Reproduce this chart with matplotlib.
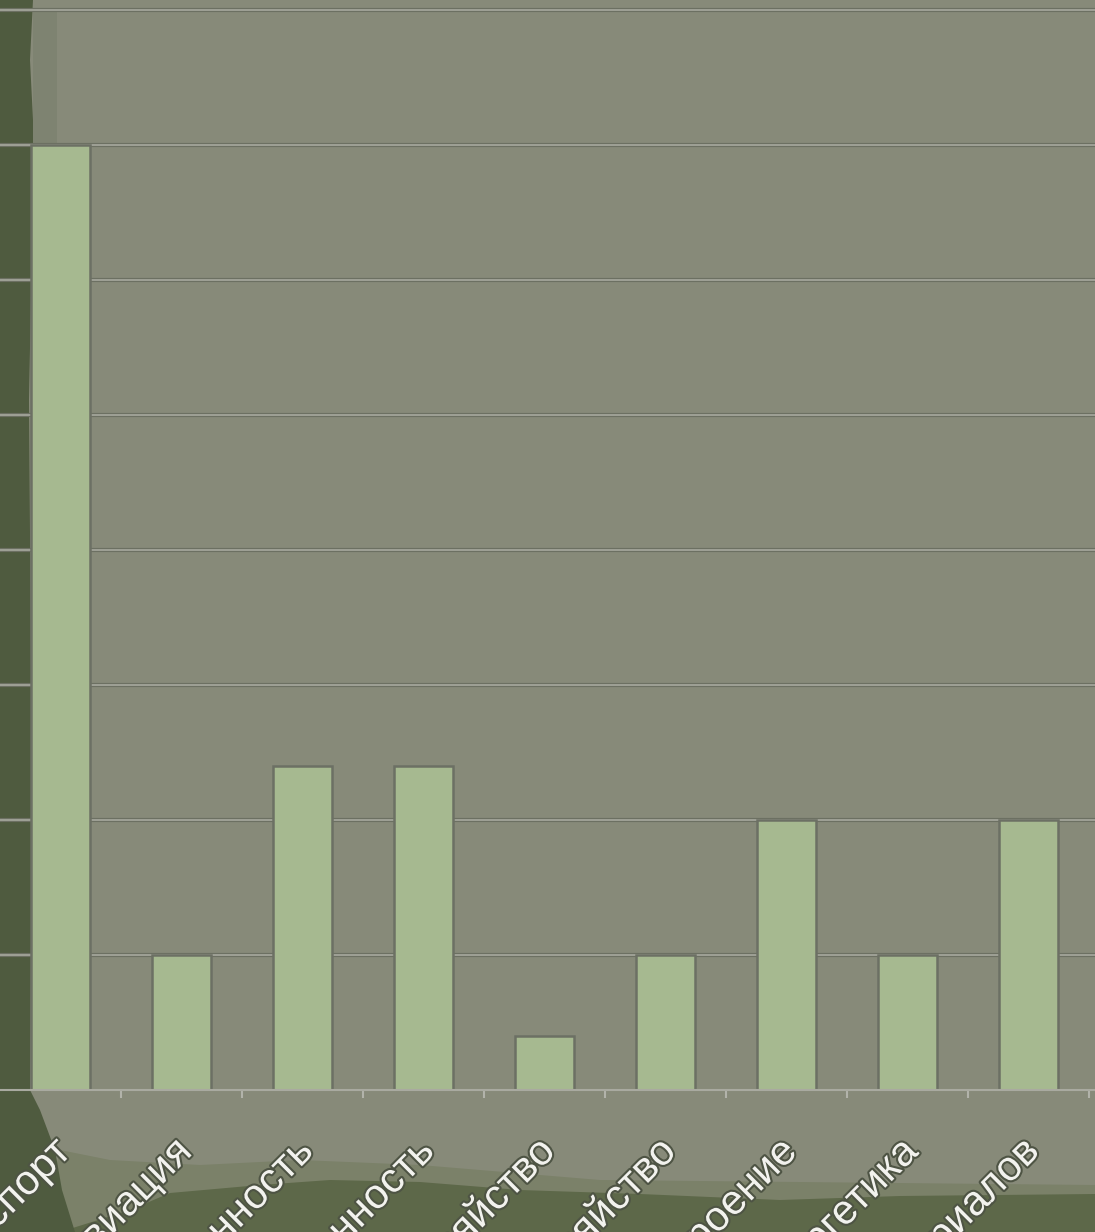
import matplotlib
matplotlib.use('Agg')
import matplotlib.pyplot as plt
from matplotlib.patches import Polygon, Rectangle
from matplotlib import patheffects as pe
from matplotlib.transforms import ScaledTranslation

# values (grid step = 5)
categories = ['Транспорт', 'Авиация', 'Химическая промышленность',
              'Пищевая промышленность', 'Сельское хозяйство', 'Лесное хозяйство',
              'Машиностроение', 'Энергетика', 'Производство материалов']
values = [35, 5, 12, 12, 2, 5, 10, 5, 10]
grid_levels = [5, 10, 15, 20, 25, 30, 35, 40]

W, H = 1095, 1232
fig = plt.figure(figsize=(W / 100, H / 100), dpi=100)
fig.patch.set_facecolor('#878a79')


def px(x, y):
    """pixel coords (top-left origin) -> figure fraction"""
    return x / W, 1 - y / H


# background decoration: dark green torn-paper edges
left_strip = [px(0, 0), px(33, 0), px(30, 60), px(34, 140), px(29, 400), px(32, 800),
              px(30, 1090), px(40, 1110), px(55, 1150), px(62, 1190), px(75, 1232),
              px(0, 1232)]
mid_band = [px(40, 1232), px(60, 1150), px(110, 1160), px(200, 1165), px(300, 1160),
            px(420, 1165), px(600, 1180), px(1095, 1185), px(1095, 1232)]
bottom_band = [px(60, 1232), px(130, 1210), px(170, 1193), px(260, 1185), px(330, 1180),
               px(420, 1182), px(520, 1190), px(640, 1194), px(780, 1200), px(900, 1196),
               px(1095, 1194), px(1095, 1232)]
for pts, col in [(mid_band, '#7b8169'), (bottom_band, '#5d6849'), (left_strip, '#4f5b3f')]:
    fig.patches.append(Polygon(pts, closed=True, transform=fig.transFigure,
                               facecolor=col, edgecolor='none', zorder=0))
fig.patches.append(Rectangle(px(33, 146), 24 / W, 135 / H, transform=fig.transFigure,
                             facecolor='#7e8371', edgecolor='none', zorder=0))

ax = fig.add_axes([0, 142 / H, 1, 1090 / H])
ax.set_facecolor('none')
ax.set_zorder(2)

x = range(len(categories))
ax.set_xlim(-0.5, -0.5 + W / 121)
ax.set_ylim(0, 1090 / 135 * 5)

# embossed gridlines
for g in grid_levels:
    ax.axhline(g, color='#6c7062', lw=3, zorder=1)
    ax.axhline(g, color='#a7a99f', lw=1.2, zorder=1.5)

ax.bar(x, values, width=0.49, color='#a6b990', edgecolor='#6c7064',
       linewidth=1.8, zorder=3)

for s in ['top', 'right', 'left']:
    ax.spines[s].set_visible(False)
ax.spines['bottom'].set_color('#a9aaa0')
ax.spines['bottom'].set_linewidth(1.5)
ax.spines['bottom'].set_zorder(4)

ax.set_yticks([])
ax.set_xticks(list(x))
ax.set_xticklabels(categories, rotation=45, ha='right', va='top',
                   rotation_mode='anchor', fontsize=30,
                   family='Liberation Sans', color='#f2f2ee')
ax.tick_params(axis='x', which='major', length=0, pad=30)
ax.set_xticks([i + 0.5 for i in range(len(categories))], minor=True)
ax.tick_params(axis='x', which='minor', length=6, width=1.5, color='#b2b3aa',
               direction='out')
shift = ScaledTranslation(-0.1, 0, fig.dpi_scale_trans)
for lab in ax.get_xticklabels():
    lab.set_path_effects([pe.withStroke(linewidth=3, foreground='#4e5444')])
    lab.set_transform(lab.get_transform() + shift)

fig.savefig('out.png', dpi=100, facecolor=fig.get_facecolor())
